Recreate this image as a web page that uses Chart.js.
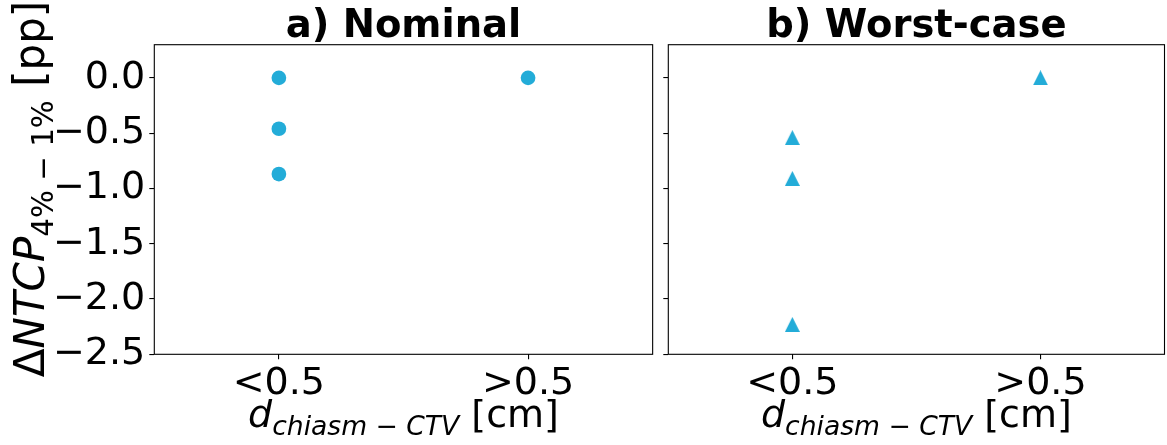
<!DOCTYPE html>
<html>
<head>
<meta charset="utf-8">
<script src="https://cdn.jsdelivr.net/npm/chart.js@4/dist/chart.umd.min.js"></script>
<style>
  html, body { margin: 0; padding: 0; background: #fff; overflow: hidden; }
  #wrap { position: relative; width: 1167px; height: 445px; overflow: hidden; }
  canvas { position: absolute; top: 0; }
  #left { left: 0; }
  #right { left: 660px; }
</style>
</head>
<body>
<div id="wrap">
  <canvas id="left" width="660" height="445"></canvas>
  <canvas id="right" width="512" height="445"></canvas>
</div>
<script>
// Distance groups along the x axis
const categories = ['<0.5', '>0.5'];
// y tick values (percentage points)
const yTicks = [0.0, -0.5, -1.0, -1.5, -2.0, -2.5];

// ΔNTCP values, nominal scenario
const nominalNear = [0.0, -0.46, -0.87];
const nominalFar = [0.0];
// ΔNTCP values, worst-case scenario
const worstNear = [-0.54, -0.91, -2.23];
const worstFar = [0.0];

const MARK = '#23acd8';
const FONT = 'DejaVu Sans';
const S = 38;   // tick labels and x-axis label
const SY = 42;  // y-axis label

function toPoints(nearVals, farVals) {
  return nearVals.map(v => ({ x: 0, y: v })).concat(farVals.map(v => ({ x: 1, y: v })));
}

// matplotlib-style '^' marker: isosceles triangle centred on its bounding box
function triangleMarker(size) {
  const c = document.createElement('canvas');
  c.width = size; c.height = size;
  const g = c.getContext('2d');
  g.fillStyle = MARK;
  g.beginPath();
  g.moveTo(size / 2, 0);
  g.lineTo(size, size);
  g.lineTo(0, size);
  g.closePath();
  g.fill();
  return c;
}

function drawRich(ctx, segs, cx, y) {
  let total = 0;
  segs.forEach(s => { ctx.font = s.font; s.w = ctx.measureText(s.text).width; total += s.w; });
  let x = cx - total / 2;
  ctx.textAlign = 'left';
  ctx.textBaseline = 'alphabetic';
  segs.forEach(s => { ctx.font = s.font; ctx.fillText(s.text, x, y + (s.dy || 0)); x += s.w; });
}

const xLabelSegs = () => [
  { text: 'd', font: `italic ${S}px "${FONT}"` },
  { text: 'chiasm \u2212 CTV', font: `italic ${0.7 * S}px "${FONT}"`, dy: 8 },
  { text: ' [cm]', font: `${S}px "${FONT}"` }
];

const yLabelSegs = () => [
  { text: '\u0394', font: `${SY}px "${FONT}"` },
  { text: 'NTCP', font: `italic ${SY}px "${FONT}"` },
  { text: '4% \u2212 1%', font: `${0.7 * SY}px "${FONT}"`, dy: 9 },
  { text: ' [pp]', font: `${SY}px "${FONT}"` }
];

// frame, title and axis labels for one panel
function panelDecor(title, showYLabel) {
  return {
    id: 'decor',
    afterDraw(chart) {
      const { ctx, chartArea: a } = chart;
      ctx.save();
      ctx.strokeStyle = '#000';
      ctx.lineWidth = 1.1;
      ctx.strokeRect(a.left, a.top, a.right - a.left, a.bottom - a.top);
      ctx.fillStyle = '#000';
      const cx = (a.left + a.right) / 2;
      ctx.font = `bold 38.5px "${FONT}"`;
      ctx.textAlign = 'center';
      ctx.textBaseline = 'alphabetic';
      ctx.fillText(title, cx, 37);
      drawRich(ctx, xLabelSegs(), cx, 427);
      if (showYLabel) {
        ctx.translate(44, 189);
        ctx.rotate(-Math.PI / 2);
        drawRich(ctx, yLabelSegs(), 0, 0);
      }
      ctx.restore();
    }
  };
}

function makePanel(canvasId, data, pointStyle, radius, title, opts) {
  return new Chart(document.getElementById(canvasId), {
    type: 'scatter',
    data: {
      datasets: [{
        data: data,
        backgroundColor: MARK,
        borderColor: MARK,
        pointStyle: pointStyle,
        pointRadius: radius,
        pointBorderWidth: 0,
        pointHoverRadius: radius
      }]
    },
    options: {
      responsive: false,
      animation: false,
      events: [],
      layout: { padding: { top: 44.7, left: 0, right: opts.padRight, bottom: 0 } },
      plugins: { legend: { display: false }, tooltip: { enabled: false } },
      scales: {
        x: {
          type: 'linear',
          min: -0.5,
          max: 1.5,
          afterBuildTicks: s => { s.ticks = categories.map((_, i) => ({ value: i })); },
          afterFit: s => { s.height = 445 - 354.3; },
          border: { display: false },
          grid: { drawOnChartArea: false, drawTicks: true, tickLength: 5, color: '#000', lineWidth: 1.1 },
          ticks: {
            color: '#000',
            padding: 2,
            maxRotation: 0,
            font: { family: FONT, size: S },
            callback: v => categories[v]
          }
        },
        y: {
          min: -2.5,
          max: 0.3,
          afterBuildTicks: s => { s.ticks = yTicks.map(v => ({ value: v })); },
          afterFit: s => { s.width = opts.yWidth; },
          border: { display: false },
          grid: { drawOnChartArea: false, drawTicks: true, tickLength: 5, color: '#000', lineWidth: 1.1 },
          ticks: {
            display: opts.yLabels,
            color: '#000',
            padding: 4,
            font: { family: FONT, size: S },
            callback: v => (v < 0 ? '\u2212' : '') + Math.abs(v).toFixed(1)
          }
        }
      }
    },
    plugins: [panelDecor(title, opts.yLabels)]
  });
}

makePanel('left', toPoints(nominalNear, nominalFar), 'circle', 7.35, 'a) Nominal',
  { yWidth: 154.3, padRight: 660 - 654.5, yLabels: true });
makePanel('right', toPoints(worstNear, worstFar), triangleMarker(15), 7.5, 'b) Worst-case',
  { yWidth: 8.3, padRight: 512 - 508.3, yLabels: false });
</script>
</body>
</html>
